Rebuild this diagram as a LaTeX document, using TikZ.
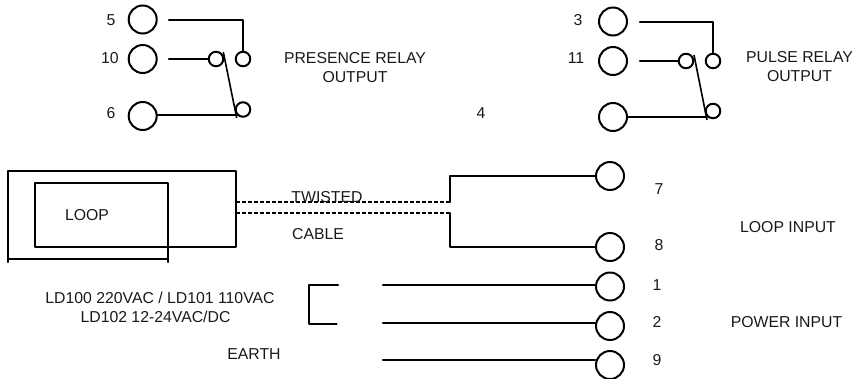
\documentclass[tikz,border=0pt]{standalone}
\usepackage{fontspec}
\setmainfont{Liberation Sans}
\begin{document}
\begin{tikzpicture}[x=1pt,y=-1pt,
  every node/.style={font=\fontsize{15.8}{19}\selectfont,text=black!90},
  bigterm/.style={circle,draw=black,line width=2pt,minimum size=28pt,inner sep=0pt},
  smallterm/.style={circle,draw=black,line width=2pt,minimum size=14.5pt,inner sep=0pt},
  wire/.style={draw=black,line width=2.1pt,line cap=round,line join=round},
  blade/.style={draw=black,line width=1.6pt},
  cable/.style={draw=black,line width=1.5pt,dash pattern=on 3.6pt off 2.4pt},
  lbl/.style={inner sep=0pt,anchor=center,align=center}]
\useasboundingbox (0,0) rectangle (858,378);
% left relay
\node[bigterm] (t5) at (142.7,19.5) {};
\node[bigterm] (t10) at (142.7,59) {};
\node[bigterm] (t6) at (142.7,116) {};
\node[smallterm] (a1) at (216,59) {};
\node[smallterm] (a2) at (243,59) {};
\node[smallterm] (a3) at (243,109.5) {};
\coordinate (f5) at (169,20);
\coordinate (f10) at (169,59);
\coordinate (j6) at (237,115);
\coordinate (s1) at (223.3,52);
\coordinate (s2) at (236.7,118);
\draw[wire] (f5) -- (f5 -| a2) -- (a2.north);
\draw[wire] (f10) -- (a1.west);
\draw[wire] (t6.east |- j6) -- (j6);
\draw[blade] (s1) -- (s2);
% right relay
\node[bigterm] (t3) at (613,21.5) {};
\node[bigterm] (t11) at (613,61) {};
\node[bigterm] (t4) at (613,117) {};
\node[smallterm] (b1) at (686,61) {};
\node[smallterm] (b2) at (713,61) {};
\node[smallterm] (b3) at (713,111) {};
\coordinate (f3) at (640,22);
\coordinate (f11) at (640,61);
\coordinate (j4) at (707,117);
\coordinate (r1) at (694,55);
\coordinate (r2) at (707,120);
\draw[wire] (f3) -- (f3 -| b2) -- (b2.north);
\draw[wire] (f11) -- (b1.west);
\draw[wire] (t4.east) -- (j4);
\draw[blade] (r1) -- (r2);
% loop
\coordinate (o1) at (8,171);
\coordinate (o2) at (236,171);
\coordinate (o3) at (236,247);
\coordinate (i1) at (35,183);
\coordinate (i2) at (168,183);
\coordinate (i3) at (168,259);
\coordinate (i4) at (35,247);
\coordinate (o4) at (8,259);
\coordinate (o5) at (8,262);
\coordinate (i5) at (168,262);
\draw[wire] (o5) -- (o1) -- (o2) -- (o3) -- (i4) -- (i1) -- (i2) -- (i5);
\draw[wire] (o4) -- (i3);
% cable
\coordinate (d1a) at (236,202);
\coordinate (d1b) at (450,202);
\coordinate (d2a) at (236,213);
\coordinate (d2b) at (450,213);
\draw[cable] (d1a) -- (d1b);
\draw[cable] (d2a) -- (d2b);
\node[bigterm] (t7) at (610,176) {};
\node[bigterm] (t8) at (610,247) {};
\draw[wire] (d1b) -- (d1b |- t7) -- (t7.west);
\draw[wire] (d2b) -- (d2b |- t8) -- (t8.west);
% power
\node[bigterm] (t1) at (610,286.5) {};
\node[bigterm] (t2) at (610,326) {};
\node[bigterm] (t9) at (610,365) {};
\coordinate (p1) at (383,285);
\coordinate (p2) at (383,323);
\coordinate (p3) at (383,360);
\draw[wire] (p1) -- (p1 -| t1.west);
\draw[wire] (p2) -- (p2 -| t2.west);
\draw[wire] (p3) -- (p3 -| t9.west);
\coordinate (k1) at (338,285);
\coordinate (k2) at (309,285);
\coordinate (k3) at (309,324);
\coordinate (k4) at (336.5,324);
\draw[wire] (k1) -- (k2) -- (k3) -- (k4);
% labels
\node[lbl] (n5) at (111,20) {5};
\node[lbl] (n10) at (110,58) {10};
\node[lbl] (n6) at (111,113) {6};
\node[lbl] (n3) at (578,20) {3};
\node[lbl] (n11) at (576,58) {11};
\node[lbl] (n4) at (481,113) {4};
\node[lbl] (pres) at (355,67.5) {PRESENCE RELAY\\OUTPUT};
\node[lbl] (puls) at (799.5,67) {PULSE RELAY\\OUTPUT};
\node[lbl] (lp) at (87,215) {LOOP};
\node[lbl] (tw) at (327,197) {TWISTED};
\node[lbl] (cb) at (318,234) {CABLE};
\node[lbl] (n7) at (659,189) {7};
\node[lbl] (n8) at (659,245) {8};
\node[lbl] (n1) at (657,285) {1};
\node[lbl] (n2) at (657,322) {2};
\node[lbl] (n9) at (657,360) {9};
\node[lbl] (li) at (788,227) {LOOP INPUT};
\node[lbl] (pi) at (786.5,322) {POWER INPUT};
\node[lbl] (ld) at (160,298) {LD100 220VAC / LD101 110VAC};
\node[lbl] (ldb) at (155.5,317) {LD102 12-24VAC/DC};
\node[lbl] (ea) at (254,354) {EARTH};
\end{tikzpicture}
\end{document}
